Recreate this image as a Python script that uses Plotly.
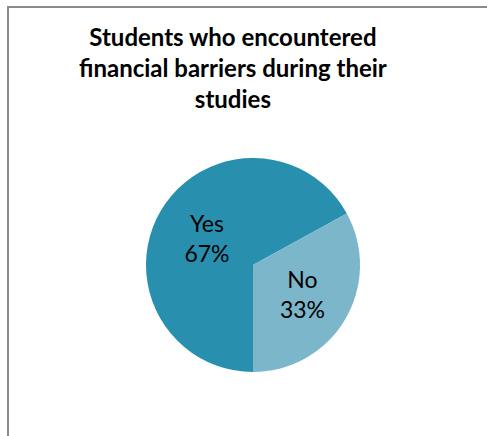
import plotly.graph_objects as go

# Survey answers and their shares (percent)
answers = ["Yes", "No"]
shares = [67, 33]
slice_colors = ["#2890AE", "#7CB6CA"]

title_lines = ["Students who encountered", "financial barriers during their", "studies"]

W, H = 487, 436

fig = go.Figure(
    go.Pie(
        labels=answers,
        values=shares,
        sort=False,
        direction="clockwise",
        rotation=180,
        marker=dict(colors=slice_colors, line=dict(color="rgba(0,0,0,0)", width=0)),
        texttemplate="%{label}<br>%{percent:.0%}",
        textposition="inside",
        insidetextorientation="horizontal",
        textfont=dict(family="Lato, Open Sans, sans-serif", size=23, color="#000000"),
        hoverinfo="label+percent",
        showlegend=False,
        domain=dict(x=[146 / W, 360 / W], y=[(H - 372) / H, (H - 158) / H]),
    )
)

# Chart frame (runs off the right and bottom edges)
fig.add_shape(
    type="rect",
    xref="paper", yref="paper",
    x0=8 / W, y0=(H - 7) / H, x1=1.05, y1=-0.05,
    line=dict(color="#8A8A8A", width=2),
    fillcolor="rgba(0,0,0,0)",
)

fig.add_annotation(
    text="<b>" + "<br>".join(title_lines) + "</b>",
    xref="paper", yref="paper",
    x=233 / W, y=(H - 20) / H,
    xanchor="center", yanchor="top",
    showarrow=False,
    align="center",
    font=dict(family="Lato, Open Sans, sans-serif", size=24, color="#000000"),
)

fig.update_layout(
    width=W, height=H,
    margin=dict(l=0, r=0, t=0, b=0),
    paper_bgcolor="#FFFFFF",
    plot_bgcolor="#FFFFFF",
)

fig.write_html("out.html")
